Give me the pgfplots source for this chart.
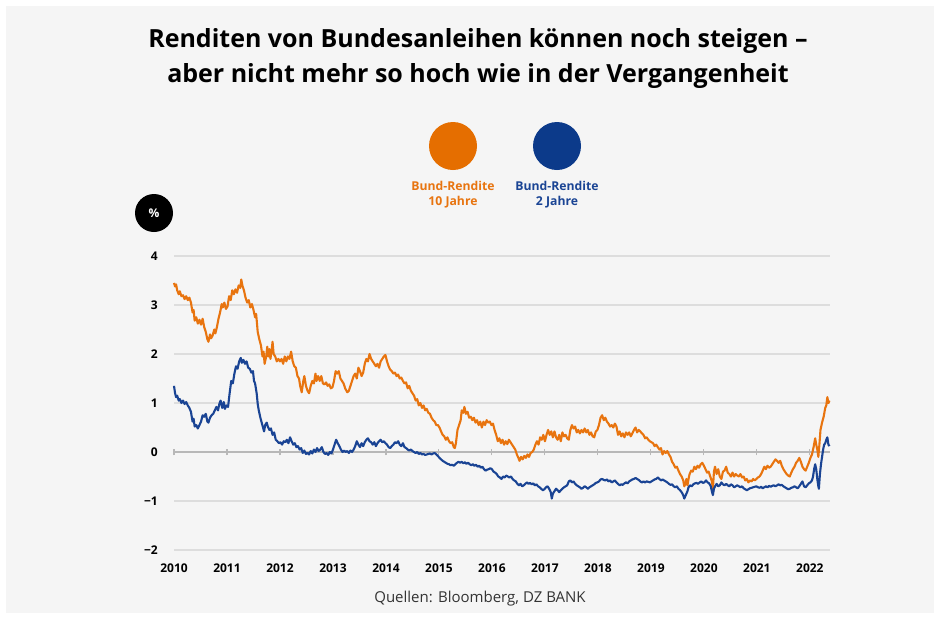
\documentclass[border=0pt]{standalone}
\usepackage{fontspec}
\setmainfont{Open Sans}
\usepackage{pgfplots}
\usepackage{pgfplotstable}
\pgfplotsset{compat=1.18}
\definecolor{bgc}{HTML}{F5F5F5}
\definecolor{gridc}{HTML}{DDDDDD}
\definecolor{zeroc}{HTML}{B8B8B8}
\definecolor{orangec}{HTML}{E8740F}
\definecolor{bluec}{HTML}{1A4494}
\definecolor{orangeleg}{HTML}{E56E00}
\definecolor{blueleg}{HTML}{0C3A8A}
\definecolor{srcc}{HTML}{333333}

\pgfplotstableread{
x y
2010.00 3.45
2010.02 3.38
2010.04 3.42
2010.06 3.30
2010.09 3.22
2010.11 3.28
2010.14 3.18
2010.17 3.20
2010.20 3.12
2010.23 3.18
2010.26 3.10
2010.29 3.15
2010.32 3.05
2010.35 2.85
2010.37 2.90
2010.39 2.68
2010.42 2.75
2010.45 2.62
2010.48 2.70
2010.51 2.60
2010.54 2.72
2010.57 2.55
2010.60 2.45
2010.63 2.30
2010.65 2.25
2010.68 2.40
2010.70 2.32
2010.73 2.38
2010.76 2.50
2010.78 2.42
2010.81 2.55
2010.84 2.72
2010.87 2.85
2010.90 3.02
2010.92 2.95
2010.95 3.05
2010.98 2.92
2011.01 2.97
2011.04 3.18
2011.07 3.10
2011.10 3.30
2011.13 3.22
2011.16 3.32
2011.19 3.25
2011.22 3.40
2011.25 3.35
2011.27 3.52
2011.29 3.40
2011.32 3.30
2011.35 3.15
2011.38 3.05
2011.41 3.10
2011.44 2.95
2011.47 3.02
2011.50 2.90
2011.53 2.75
2011.55 2.82
2011.58 2.45
2011.61 2.30
2011.64 2.18
2011.67 1.95
2011.69 2.05
2011.71 1.80
2011.74 1.95
2011.76 2.15
2011.78 1.95
2011.80 2.10
2011.82 1.90
2011.84 2.05
2011.86 2.25
2011.88 2.00
2011.91 1.95
2011.94 1.85
2011.97 1.90
2012.00 1.85
2012.03 1.90
2012.06 1.80
2012.09 1.95
2012.12 1.85
2012.15 1.95
2012.18 1.90
2012.21 2.05
2012.24 1.85
2012.27 1.75
2012.30 1.72
2012.33 1.55
2012.36 1.50
2012.38 1.35
2012.41 1.22
2012.44 1.45
2012.46 1.55
2012.49 1.35
2012.52 1.25
2012.55 1.20
2012.58 1.35
2012.61 1.45
2012.64 1.40
2012.67 1.60
2012.69 1.45
2012.72 1.55
2012.75 1.45
2012.78 1.55
2012.81 1.40
2012.84 1.38
2012.87 1.42
2012.90 1.35
2012.93 1.38
2012.96 1.30
2012.99 1.32
2013.02 1.45
2013.05 1.65
2013.08 1.60
2013.11 1.65
2013.14 1.50
2013.17 1.45
2013.20 1.40
2013.23 1.30
2013.27 1.22
2013.30 1.25
2013.33 1.35
2013.36 1.45
2013.39 1.55
2013.42 1.60
2013.45 1.50
2013.48 1.72
2013.51 1.65
2013.54 1.55
2013.57 1.62
2013.60 1.80
2013.63 1.90
2013.66 1.85
2013.69 2.00
2013.72 1.90
2013.75 1.85
2013.78 1.80
2013.81 1.75
2013.84 1.80
2013.87 1.72
2013.90 1.85
2013.93 1.90
2013.96 1.95
2013.99 1.98
2014.02 1.85
2014.05 1.75
2014.08 1.68
2014.11 1.65
2014.14 1.60
2014.17 1.62
2014.20 1.55
2014.23 1.58
2014.26 1.50
2014.29 1.52
2014.32 1.45
2014.35 1.40
2014.38 1.42
2014.41 1.30
2014.44 1.35
2014.47 1.25
2014.50 1.20
2014.53 1.15
2014.56 1.05
2014.59 1.08
2014.62 0.95
2014.65 1.00
2014.68 0.90
2014.71 0.95
2014.74 0.85
2014.77 0.88
2014.80 0.80
2014.83 0.78
2014.86 0.70
2014.89 0.65
2014.92 0.62
2014.95 0.55
2014.98 0.55
2015.01 0.50
2015.04 0.42
2015.07 0.35
2015.10 0.32
2015.13 0.25
2015.16 0.30
2015.19 0.22
2015.22 0.18
2015.25 0.20
2015.28 0.10
2015.30 0.08
2015.32 0.18
2015.35 0.45
2015.38 0.55
2015.41 0.65
2015.43 0.85
2015.46 0.80
2015.48 0.92
2015.51 0.78
2015.54 0.82
2015.57 0.70
2015.60 0.72
2015.63 0.65
2015.66 0.70
2015.69 0.60
2015.72 0.65
2015.75 0.55
2015.78 0.62
2015.81 0.50
2015.84 0.62
2015.87 0.55
2015.90 0.65
2015.93 0.60
2015.96 0.62
2015.99 0.55
2016.02 0.58
2016.05 0.45
2016.08 0.35
2016.11 0.22
2016.14 0.28
2016.17 0.18
2016.20 0.25
2016.23 0.15
2016.26 0.22
2016.29 0.16
2016.32 0.25
2016.35 0.20
2016.38 0.15
2016.41 0.10
2016.44 0.05
2016.47 -0.05
2016.50 -0.12
2016.52 -0.18
2016.55 -0.10
2016.58 -0.15
2016.61 -0.08
2016.64 -0.12
2016.67 -0.05
2016.70 -0.10
2016.73 -0.02
2016.76 0.00
2016.79 0.05
2016.82 0.15
2016.85 0.22
2016.88 0.15
2016.91 0.30
2016.94 0.25
2016.97 0.35
2017.00 0.22
2017.03 0.35
2017.06 0.45
2017.09 0.35
2017.12 0.42
2017.15 0.30
2017.18 0.42
2017.21 0.30
2017.24 0.25
2017.27 0.35
2017.30 0.22
2017.33 0.40
2017.36 0.32
2017.39 0.35
2017.42 0.28
2017.45 0.25
2017.48 0.45
2017.51 0.55
2017.54 0.48
2017.57 0.52
2017.60 0.40
2017.63 0.45
2017.66 0.38
2017.69 0.45
2017.72 0.40
2017.75 0.48
2017.78 0.40
2017.81 0.45
2017.84 0.35
2017.87 0.40
2017.90 0.32
2017.93 0.30
2017.96 0.42
2017.99 0.45
2018.02 0.55
2018.05 0.70
2018.08 0.75
2018.11 0.65
2018.14 0.70
2018.17 0.62
2018.20 0.58
2018.23 0.52
2018.26 0.55
2018.29 0.50
2018.32 0.58
2018.35 0.52
2018.38 0.35
2018.41 0.42
2018.44 0.32
2018.47 0.38
2018.50 0.30
2018.53 0.40
2018.56 0.35
2018.59 0.40
2018.62 0.32
2018.65 0.38
2018.68 0.45
2018.71 0.50
2018.74 0.40
2018.77 0.45
2018.80 0.42
2018.83 0.38
2018.86 0.35
2018.89 0.28
2018.92 0.30
2018.95 0.25
2018.98 0.22
2019.01 0.20
2019.04 0.18
2019.07 0.12
2019.10 0.15
2019.13 0.10
2019.16 0.05
2019.19 0.08
2019.22 -0.05
2019.25 0.02
2019.28 -0.02
2019.31 0.02
2019.34 -0.05
2019.37 -0.10
2019.40 -0.20
2019.43 -0.25
2019.46 -0.32
2019.49 -0.30
2019.52 -0.38
2019.55 -0.45
2019.58 -0.50
2019.61 -0.58
2019.63 -0.70
2019.65 -0.65
2019.67 -0.55
2019.69 -0.68
2019.71 -0.55
2019.73 -0.45
2019.76 -0.38
2019.79 -0.40
2019.82 -0.30
2019.85 -0.35
2019.88 -0.28
2019.91 -0.32
2019.94 -0.25
2019.97 -0.22
2020.00 -0.28
2020.03 -0.35
2020.06 -0.42
2020.09 -0.40
2020.12 -0.50
2020.15 -0.60
2020.17 -0.75
2020.19 -0.40
2020.21 -0.30
2020.24 -0.45
2020.27 -0.35
2020.30 -0.50
2020.33 -0.55
2020.36 -0.40
2020.39 -0.38
2020.42 -0.30
2020.45 -0.42
2020.48 -0.45
2020.51 -0.50
2020.54 -0.42
2020.57 -0.50
2020.60 -0.45
2020.63 -0.48
2020.66 -0.50
2020.69 -0.45
2020.72 -0.52
2020.75 -0.50
2020.78 -0.58
2020.81 -0.55
2020.84 -0.62
2020.87 -0.58
2020.90 -0.60
2020.93 -0.55
2020.96 -0.58
2020.99 -0.55
2021.02 -0.52
2021.05 -0.50
2021.08 -0.45
2021.11 -0.38
2021.14 -0.30
2021.17 -0.35
2021.20 -0.28
2021.23 -0.32
2021.26 -0.30
2021.29 -0.25
2021.32 -0.20
2021.35 -0.15
2021.38 -0.18
2021.41 -0.22
2021.44 -0.18
2021.47 -0.28
2021.50 -0.35
2021.53 -0.40
2021.56 -0.45
2021.59 -0.48
2021.62 -0.50
2021.65 -0.42
2021.68 -0.35
2021.71 -0.30
2021.74 -0.22
2021.77 -0.18
2021.80 -0.12
2021.83 -0.20
2021.86 -0.30
2021.89 -0.35
2021.92 -0.38
2021.95 -0.30
2021.98 -0.22
2022.01 -0.12
2022.04 -0.05
2022.07 0.10
2022.10 0.28
2022.12 0.15
2022.14 0.05
2022.16 -0.10
2022.18 0.15
2022.20 0.45
2022.23 0.60
2022.26 0.72
2022.29 0.90
2022.31 0.95
2022.33 1.12
2022.35 1.00
2022.37 1.05
}\tenyear

\pgfplotstableread{
x y
2010.00 1.35
2010.02 1.20
2010.04 1.12
2010.06 1.15
2010.09 1.05
2010.11 1.08
2010.14 1.00
2010.17 1.05
2010.20 0.98
2010.23 1.02
2010.26 0.95
2010.29 0.90
2010.32 0.82
2010.35 0.62
2010.37 0.68
2010.39 0.52
2010.42 0.55
2010.45 0.48
2010.48 0.55
2010.51 0.62
2010.54 0.75
2010.57 0.72
2010.60 0.78
2010.63 0.62
2010.65 0.60
2010.68 0.70
2010.71 0.75
2010.74 0.78
2010.77 0.85
2010.80 0.92
2010.83 0.85
2010.86 1.00
2010.88 1.05
2010.91 0.90
2010.94 1.02
2010.96 0.88
2010.99 0.95
2011.02 0.92
2011.05 1.20
2011.08 1.45
2011.11 1.40
2011.14 1.60
2011.17 1.75
2011.20 1.70
2011.23 1.85
2011.26 1.92
2011.28 1.82
2011.31 1.88
2011.34 1.80
2011.37 1.85
2011.40 1.72
2011.43 1.70
2011.46 1.62
2011.49 1.65
2011.51 1.45
2011.53 1.40
2011.56 1.20
2011.58 0.98
2011.60 0.85
2011.63 0.70
2011.65 0.62
2011.68 0.50
2011.70 0.42
2011.72 0.55
2011.75 0.60
2011.77 0.52
2011.80 0.45
2011.83 0.48
2011.86 0.35
2011.89 0.40
2011.92 0.25
2011.95 0.22
2011.98 0.18
2012.01 0.20
2012.04 0.15
2012.07 0.22
2012.10 0.20
2012.13 0.25
2012.16 0.18
2012.19 0.30
2012.22 0.22
2012.25 0.15
2012.28 0.18
2012.31 0.10
2012.34 0.12
2012.37 0.05
2012.40 0.08
2012.43 -0.02
2012.46 0.03
2012.49 -0.04
2012.52 -0.02
2012.55 -0.05
2012.58 0.02
2012.61 -0.03
2012.64 0.05
2012.67 0.00
2012.70 0.08
2012.73 0.02
2012.76 0.05
2012.79 0.10
2012.82 0.00
2012.85 -0.04
2012.88 -0.02
2012.91 -0.06
2012.94 0.00
2012.97 -0.03
2013.00 0.05
2013.03 0.15
2013.06 0.25
2013.09 0.18
2013.12 0.12
2013.15 0.05
2013.18 0.00
2013.21 0.03
2013.24 0.00
2013.27 0.02
2013.30 -0.02
2013.33 0.03
2013.36 0.00
2013.39 0.05
2013.42 0.12
2013.45 0.22
2013.48 0.15
2013.51 0.10
2013.54 0.18
2013.57 0.12
2013.60 0.20
2013.63 0.25
2013.66 0.28
2013.69 0.22
2013.72 0.20
2013.75 0.15
2013.78 0.20
2013.81 0.12
2013.84 0.18
2013.87 0.22
2013.90 0.25
2013.93 0.20
2013.96 0.22
2013.99 0.18
2014.02 0.15
2014.05 0.10
2014.08 0.08
2014.11 0.12
2014.14 0.15
2014.17 0.20
2014.20 0.18
2014.23 0.22
2014.26 0.15
2014.29 0.12
2014.32 0.18
2014.35 0.10
2014.38 0.08
2014.41 0.05
2014.44 0.03
2014.47 0.05
2014.50 0.02
2014.53 0.00
2014.56 -0.02
2014.59 0.00
2014.62 -0.04
2014.65 -0.02
2014.68 -0.05
2014.71 -0.04
2014.74 -0.06
2014.77 -0.05
2014.80 -0.04
2014.83 -0.03
2014.86 -0.05
2014.89 -0.03
2014.92 -0.02
2014.95 -0.05
2014.98 -0.08
2015.01 -0.12
2015.04 -0.15
2015.07 -0.18
2015.10 -0.20
2015.13 -0.22
2015.16 -0.24
2015.19 -0.25
2015.22 -0.27
2015.25 -0.26
2015.28 -0.28
2015.31 -0.25
2015.34 -0.22
2015.37 -0.20
2015.40 -0.22
2015.43 -0.20
2015.46 -0.23
2015.49 -0.21
2015.52 -0.24
2015.55 -0.22
2015.58 -0.25
2015.61 -0.27
2015.64 -0.25
2015.67 -0.28
2015.70 -0.26
2015.73 -0.30
2015.76 -0.28
2015.79 -0.32
2015.82 -0.30
2015.85 -0.35
2015.88 -0.38
2015.91 -0.36
2015.94 -0.35
2015.97 -0.33
2016.00 -0.35
2016.03 -0.40
2016.06 -0.42
2016.09 -0.45
2016.12 -0.50
2016.15 -0.52
2016.18 -0.55
2016.21 -0.50
2016.24 -0.52
2016.27 -0.48
2016.30 -0.50
2016.33 -0.52
2016.36 -0.50
2016.39 -0.55
2016.42 -0.58
2016.45 -0.60
2016.48 -0.65
2016.51 -0.68
2016.54 -0.65
2016.57 -0.70
2016.60 -0.68
2016.63 -0.65
2016.66 -0.62
2016.69 -0.65
2016.72 -0.63
2016.75 -0.66
2016.78 -0.64
2016.81 -0.68
2016.84 -0.66
2016.87 -0.70
2016.90 -0.72
2016.93 -0.75
2016.96 -0.78
2016.99 -0.76
2017.02 -0.72
2017.05 -0.70
2017.08 -0.75
2017.11 -0.82
2017.13 -0.95
2017.15 -0.85
2017.18 -0.80
2017.21 -0.75
2017.24 -0.78
2017.27 -0.82
2017.30 -0.78
2017.33 -0.75
2017.36 -0.72
2017.39 -0.70
2017.42 -0.68
2017.45 -0.60
2017.48 -0.58
2017.51 -0.62
2017.54 -0.60
2017.57 -0.65
2017.60 -0.68
2017.63 -0.70
2017.66 -0.72
2017.69 -0.75
2017.72 -0.73
2017.75 -0.70
2017.78 -0.72
2017.81 -0.75
2017.84 -0.72
2017.87 -0.70
2017.90 -0.68
2017.93 -0.66
2017.96 -0.63
2017.99 -0.62
2018.02 -0.60
2018.05 -0.56
2018.08 -0.55
2018.11 -0.57
2018.14 -0.58
2018.17 -0.56
2018.20 -0.60
2018.23 -0.58
2018.26 -0.62
2018.29 -0.60
2018.32 -0.58
2018.35 -0.62
2018.38 -0.65
2018.41 -0.68
2018.44 -0.66
2018.47 -0.67
2018.50 -0.64
2018.53 -0.62
2018.56 -0.64
2018.59 -0.60
2018.62 -0.58
2018.65 -0.56
2018.68 -0.55
2018.71 -0.53
2018.74 -0.55
2018.77 -0.57
2018.80 -0.60
2018.83 -0.62
2018.86 -0.60
2018.89 -0.62
2018.92 -0.60
2018.95 -0.61
2018.98 -0.62
2019.01 -0.60
2019.04 -0.58
2019.07 -0.56
2019.10 -0.55
2019.13 -0.52
2019.16 -0.55
2019.19 -0.58
2019.22 -0.56
2019.25 -0.58
2019.28 -0.60
2019.31 -0.62
2019.34 -0.65
2019.37 -0.67
2019.40 -0.66
2019.43 -0.70
2019.46 -0.72
2019.49 -0.70
2019.52 -0.75
2019.55 -0.78
2019.58 -0.82
2019.61 -0.88
2019.63 -0.95
2019.65 -0.90
2019.67 -0.85
2019.69 -0.80
2019.71 -0.72
2019.74 -0.68
2019.77 -0.70
2019.80 -0.66
2019.83 -0.64
2019.86 -0.63
2019.89 -0.65
2019.92 -0.62
2019.95 -0.60
2019.98 -0.63
2020.01 -0.62
2020.04 -0.58
2020.07 -0.62
2020.10 -0.64
2020.13 -0.70
2020.15 -0.80
2020.17 -0.88
2020.19 -0.75
2020.21 -0.70
2020.24 -0.65
2020.27 -0.70
2020.30 -0.68
2020.33 -0.62
2020.36 -0.66
2020.39 -0.68
2020.42 -0.65
2020.45 -0.68
2020.48 -0.70
2020.51 -0.66
2020.54 -0.68
2020.57 -0.72
2020.60 -0.70
2020.63 -0.68
2020.66 -0.70
2020.69 -0.72
2020.72 -0.70
2020.75 -0.74
2020.78 -0.76
2020.81 -0.78
2020.84 -0.76
2020.87 -0.74
2020.90 -0.73
2020.93 -0.72
2020.96 -0.71
2020.99 -0.70
2021.02 -0.72
2021.05 -0.73
2021.08 -0.71
2021.11 -0.74
2021.14 -0.72
2021.17 -0.70
2021.20 -0.72
2021.23 -0.69
2021.26 -0.71
2021.29 -0.69
2021.32 -0.68
2021.35 -0.70
2021.38 -0.68
2021.41 -0.66
2021.44 -0.68
2021.47 -0.67
2021.50 -0.70
2021.53 -0.72
2021.56 -0.74
2021.59 -0.76
2021.62 -0.75
2021.65 -0.73
2021.68 -0.72
2021.71 -0.70
2021.74 -0.72
2021.77 -0.74
2021.80 -0.70
2021.83 -0.65
2021.86 -0.60
2021.89 -0.70
2021.92 -0.72
2021.95 -0.68
2021.98 -0.64
2022.01 -0.62
2022.04 -0.58
2022.06 -0.50
2022.08 -0.35
2022.10 -0.25
2022.12 -0.35
2022.14 -0.55
2022.16 -0.70
2022.17 -0.75
2022.19 -0.45
2022.21 -0.25
2022.23 -0.10
2022.25 0.05
2022.27 0.15
2022.29 0.18
2022.31 0.25
2022.33 0.30
2022.35 0.15
2022.37 0.12
}\twoyear

\begin{document}
\begin{tikzpicture}
\path[use as bounding box, fill=white] (0pt,0pt) rectangle (940pt,-619pt);
\fill[bgc] (6pt,-6pt) rectangle (934pt,-613pt);

\node[align=center, font=\bfseries\fontsize{25}{35}\selectfont, text=black] at (478pt,-59pt)
  {Renditen von Bundesanleihen können noch steigen –\\aber nicht mehr so hoch wie in der Vergangenheit};

% legend
\fill[orangeleg] (453pt,-146pt) circle (24pt);
\fill[blueleg] (557pt,-146pt) circle (24pt);
\node[align=center, font=\bfseries\fontsize{12.2}{15}\selectfont, text=orangec] at (453pt,-195pt) {Bund-Rendite\\10 Jahre};
\node[align=center, font=\bfseries\fontsize{12.2}{15}\selectfont, text=bluec] at (557pt,-195pt) {Bund-Rendite\\2 Jahre};

% percent badge
\fill[black] (154pt,-213pt) circle (19pt);
\node[font=\bfseries\fontsize{12}{12}\selectfont, text=white] at (154pt,-213pt) {\%};

\begin{axis}[
  at={(174pt,-550pt)}, anchor=south west,
  scale only axis, width=656pt, height=294pt,
  xmin=2010, xmax=2022.38, ymin=-2, ymax=4,
  axis line style={draw=none},
  major tick length=0pt,
  xtick={2010,2011,2012,2013,2014,2015,2016,2017,2018,2019,2020,2021,2022},
  xticklabels={2010,2011,2012,2013,2014,2015,2016,2017,2018,2019,2020,2021,2022},
  ytick={-2,-1,0,1,2,3,4},
  yticklabels={−2,−1,0,1,2,3,4},
  ymajorgrids, grid style={draw=gridc, line width=1.3pt},
  xticklabel style={font=\bfseries\fontsize{12}{12}\selectfont, anchor=north, inner sep=0pt},
  yticklabel style={font=\bfseries\fontsize{12}{12}\selectfont, anchor=east, inner sep=0pt},
  xticklabel shift=14pt,
  yticklabel shift=16pt,
  clip=false,
]
\draw[zeroc, line width=1.3pt] (axis cs:2010,0) -- (axis cs:2022.38,0);
\pgfplotsinvokeforeach{2010,2011,2012,2013,2014,2015,2016,2017,2018,2019,2020,2021,2022}{
  \draw[zeroc, line width=1.1pt] (axis cs:#1,-0.07) -- (axis cs:#1,0.07);
}
\addplot[orangec, line width=2.1pt, line join=round] table[x=x,y=y] {\tenyear};
\addplot[bluec, line width=2.1pt, line join=round] table[x=x,y=y] {\twoyear};
\end{axis}

\node[font=\fontsize{15}{16}\selectfont, text=srcc] at (480pt,-599pt) {Quellen: Bloomberg, DZ BANK};
\end{tikzpicture}
\end{document}
